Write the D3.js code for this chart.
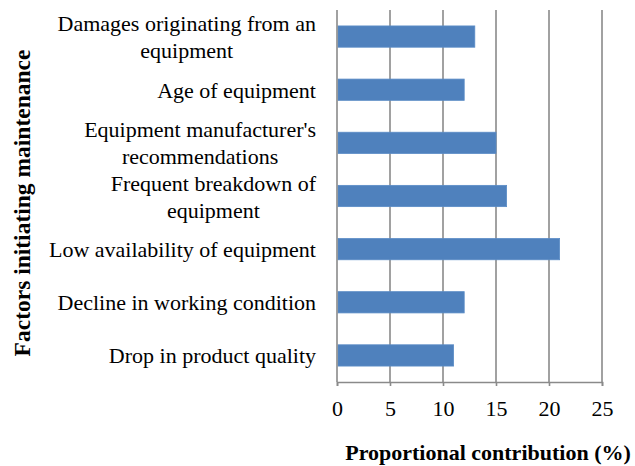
<!DOCTYPE html>
<html lang="en">
<head>
    <meta charset="utf-8">
    <title>Factors initiating maintenance</title>
    <script src="https://cdnjs.cloudflare.com/ajax/libs/d3/7.8.5/d3.min.js"></script>
    <style>
      body { margin: 0; background: #fff; }
    </style>
</head>
<body>
    <script>
    // data (top to bottom)
    var categories = [
      "Damages originating from an\nequipment",
      "Age of equipment",
      "Equipment manufacturer's\nrecommendations",
      "Frequent breakdown of\nequipment",
      "Low availability of equipment",
      "Decline in working condition",
      "Drop in product quality"
    ];
    var values = [13, 12, 15, 16, 21, 12, 11];
    var xTicks = [0, 5, 10, 15, 20, 25];

    var FONT = "Liberation Serif";
    var W = 635, H = 466;
    var margin = {top: 10, right: 33, bottom: 84, left: 337};
    var width = W - margin.left - margin.right,
        height = H - margin.top - margin.bottom;

    var svg = d3.select("body").append("svg")
        .attr("width", W)
        .attr("height", H);

    var g = svg.append("g")
        .attr("transform", "translate(" + margin.left + "," + margin.top + ")");

    var x = d3.scaleLinear().domain([0, 25]).range([0, width]);
    var y = d3.scaleBand().domain(categories).range([0, height])
        .paddingInner(0.6).paddingOuter(0.3);

    // vertical gridlines
    g.selectAll(".grid")
        .data(xTicks.slice(1))
        .enter().append("line")
        .attr("x1", function(d) { return x(d); })
        .attr("x2", function(d) { return x(d); })
        .attr("y1", 0)
        .attr("y2", height)
        .attr("stroke", "#8a8a8a")
        .attr("stroke-width", 1.6);

    // bars
    g.selectAll(".bar")
        .data(values)
        .enter().append("rect")
        .attr("x", x(0) + 1)
        .attr("y", function(d, i) { return y(categories[i]); })
        .attr("width", function(d) { return x(d) - x(0) - 1; })
        .attr("height", y.bandwidth())
        .attr("fill", "#4f81bd")
        .attr("stroke", "#5b8cc6")
        .attr("stroke-width", 0.8);

    // x axis
    var xAxis = g.append("g")
        .attr("transform", "translate(0," + height + ")")
        .call(d3.axisBottom(x).tickValues(xTicks).tickSize(4).tickPadding(14));
    xAxis.select(".domain").attr("stroke", "#8a8a8a").attr("stroke-width", 1.6);
    xAxis.selectAll(".tick line").attr("stroke", "#8a8a8a").attr("stroke-width", 1.6);
    xAxis.selectAll(".tick text")
        .style("font-family", FONT)
        .style("font-size", "22px")
        .attr("fill", "#000");

    // y axis line
    g.append("line")
        .attr("x1", 0).attr("x2", 0)
        .attr("y1", 0).attr("y2", height)
        .attr("stroke", "#8a8a8a")
        .attr("stroke-width", 1.6);

    // category labels, multi-line centred within a right-aligned block
    var lineH = 27;
    var labels = g.selectAll(".cat")
        .data(categories)
        .enter().append("text")
        .attr("class", "cat")
        .style("font-family", FONT)
        .style("font-size", "22px")
        .attr("fill", "#000")
        .attr("text-anchor", "middle")
        .attr("dominant-baseline", "central");

    labels.each(function(d) {
        var t = d3.select(this);
        var lines = d.split("\n");
        var cy = y(d) + y.bandwidth() / 2;
        var spans = t.selectAll("tspan").data(lines).enter().append("tspan")
            .attr("y", function(l, i) { return cy + (i - (lines.length - 1) / 2) * lineH; })
            .text(function(l) { return l; });
        var maxW = 0;
        spans.each(function() { maxW = Math.max(maxW, this.getComputedTextLength()); });
        spans.attr("x", -21 - maxW / 2);
    });

    // axis titles
    svg.append("text")
        .attr("x", 488)
        .attr("y", 452)
        .attr("text-anchor", "middle")
        .attr("dominant-baseline", "central")
        .style("font-family", FONT)
        .style("font-size", "22px")
        .style("font-weight", "bold")
        .text("Proportional contribution (%)");

    svg.append("text")
        .attr("transform", "translate(22,203) rotate(-90)")
        .attr("text-anchor", "middle")
        .attr("dominant-baseline", "central")
        .style("font-family", FONT)
        .style("font-size", "23.5px")
        .style("font-weight", "bold")
        .text("Factors initiating maintenance");
    </script>
</body>
</html>
